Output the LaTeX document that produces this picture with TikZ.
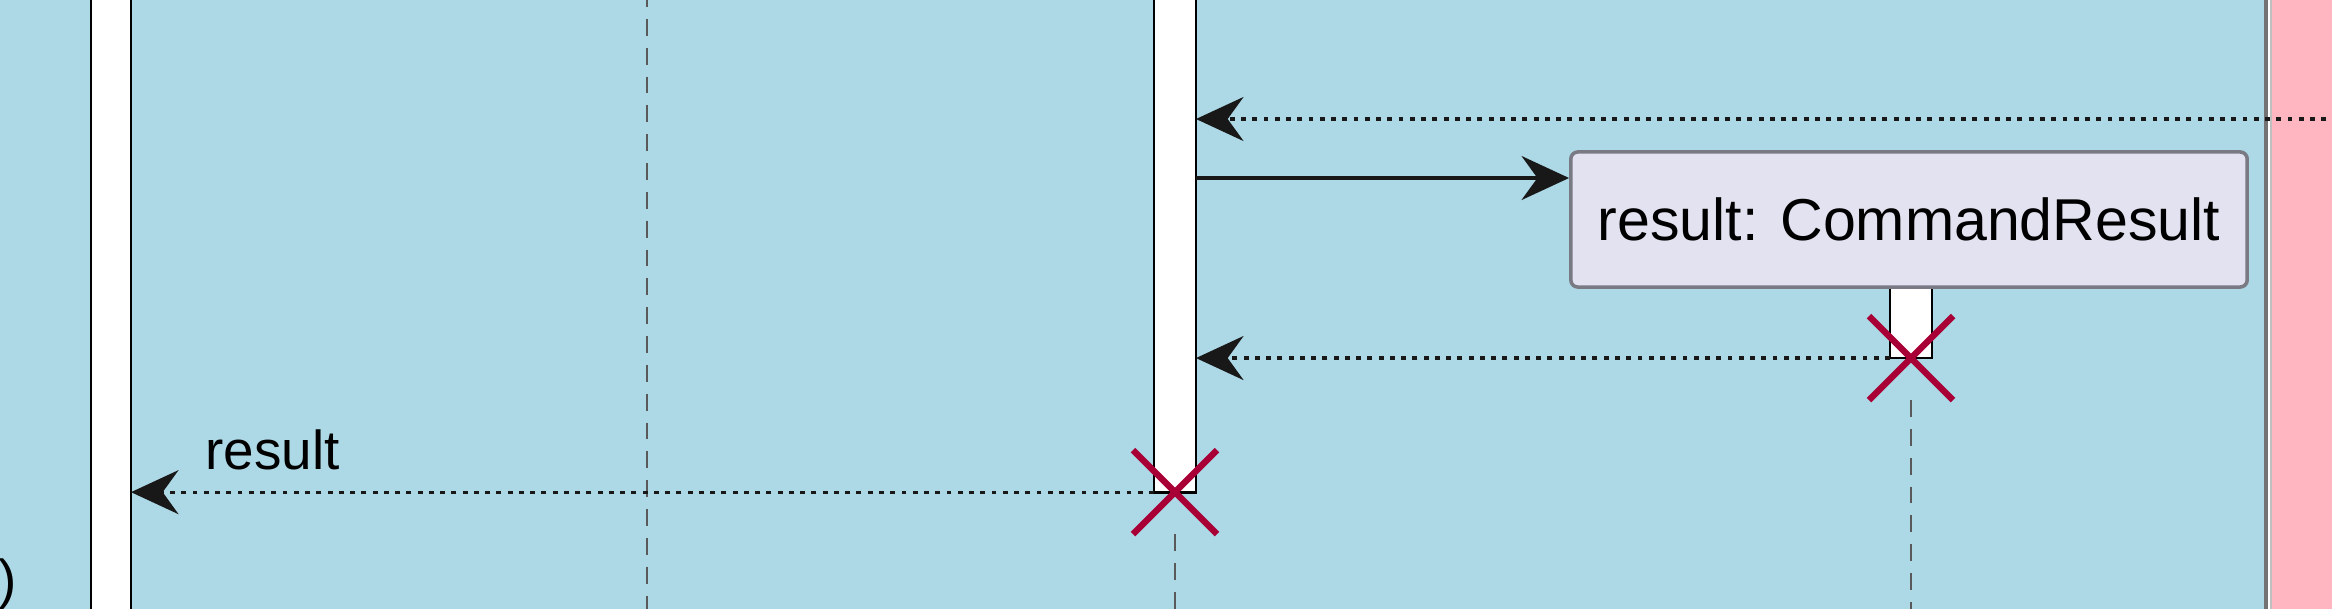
\documentclass[tikz,border=0pt]{standalone}
\usepackage{fontspec}
\setmainfont{Liberation Sans}
\usetikzlibrary{arrows.meta,shapes.misc}
\definecolor{boxblue}{HTML}{ADD8E6}
\definecolor{boxpink}{HTML}{FFB6C1}
\definecolor{partfill}{HTML}{E2E2F0}
\definecolor{partline}{HTML}{7A7A85}
\definecolor{destroyred}{HTML}{A80036}
\definecolor{msgline}{HTML}{181818}
\tikzset{
  actbar/.style={draw=black, fill=white, line width=0.8pt, inner sep=0pt, outer sep=0pt},
  lifeline/.style={draw=black!65, line width=0.7pt, dash pattern=on 4.8pt off 3.4pt},
  msgtip/.style={-{Stealth[length=13.5pt,width=12.5pt,inset=4.5pt]}},
  replymsg/.style={draw=msgline, line width=0.9pt, dash pattern=on 1.4pt off 1.8pt, msgtip},
  callmsg/.style={draw=msgline, line width=0.9pt, msgtip},
  destroy/.style={cross out, draw=destroyred, line width=1.8pt, minimum size=0.84cm, inner sep=0pt, outer sep=0pt},
  participant/.style={draw=partline, fill=partfill, line width=1pt, rounded corners=2pt,
    minimum width=6.76cm, minimum height=1.35cm, inner sep=0pt, font=\fontsize{16.8}{20}\selectfont},
  msglabel/.style={inner sep=0pt, font=\fontsize{15.6}{18}\selectfont}
}
\begin{document}
\begin{tikzpicture}[x=0.01cm, y=-0.01cm]
    \useasboundingbox (0,0) rectangle (2332,608);

    % 背景框
    \fill[white] (0,0) rectangle (2332,608);
    \fill[boxblue] (-10,-10) rectangle (2266,620);
    \draw[black!55, line width=1pt] (2266,-10) -- (2266,620);
    \fill[boxpink] (2271,-10) rectangle (2342,620);
    \draw[black!25, line width=0.6pt] (2271,-10) -- (2271,620);

    % 生命线
    \draw[lifeline] (647,-10) -- (647,620);

    % 激活条
    \node[actbar, minimum width=0.4cm, minimum height=6.5cm] (barL) at (111,305) {};
    \node[actbar, minimum width=0.42cm, minimum height=5.22cm] (barM) at (1175,231) {};
    \node[actbar, minimum width=0.42cm, minimum height=0.71cm, anchor=north] (barR) at (1911,287) {};

    % 新建的对象
    \node[participant] (resObj) at (1909,219.5) {result: CommandResult};

    % 消息
    \coordinate (offR) at (2360,119);
    \draw[replymsg] (offR) -- (offR -| barM.east);
    \draw[callmsg] (barM.east |- 0,178) -- (resObj.west |- 0,178);
    \draw[replymsg] (barR.south west) -- (barR.south west -| barM.east);
    \draw[replymsg] (barM.south west) -- (barM.south west -| barL.east);
    \node[msglabel, anchor=base west] (lblResult) at (205,469) {result};
    \node[msglabel, anchor=base east] (lblCall) at (17,598) {()};

    % 销毁标记
    \node[destroy] (xM) at (barM.south) {};
    \node[destroy] (xR) at (barR.south) {};
    \draw[lifeline] (xM.south) -- (xM.south |- 0,620);
    \draw[lifeline] (xR.south) -- (xR.south |- 0,620);
\end{tikzpicture}
\end{document}
